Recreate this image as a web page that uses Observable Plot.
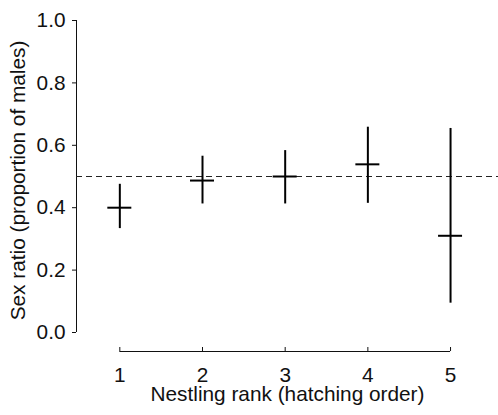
<!DOCTYPE html>
<html>
<head>
<meta charset="utf-8">
<script src="https://cdn.jsdelivr.net/npm/d3@7"></script>
<script src="https://cdn.jsdelivr.net/npm/@observablehq/plot@0.6"></script>
<style>
  html, body { margin: 0; padding: 0; background: #fff; }
</style>
</head>
<body>
<div id="chart"></div>
<script>
// Data
const ranks = [1, 2, 3, 4, 5];
const means = [0.40, 0.487, 0.50, 0.539, 0.31];
const lows  = [0.333, 0.412, 0.412, 0.414, 0.094];
const highs = [0.475, 0.565, 0.583, 0.658, 0.654];
const yTicks = [0, 0.2, 0.4, 0.6, 0.8, 1.0];
const refLine = [0.5];
const xTitle = "Nestling rank (hatching order)";
const yTitle = "Sex ratio (proportion of males)";

const data = ranks.map((r, i) => ({rank: r, mean: means[i], lo: lows[i], hi: highs[i]}));

const font = "'Liberation Sans', Arial, sans-serif";
const ink = "#111";
const fs = 20.8;

const chart = Plot.plot({
  width: 498,
  height: 415,
  marginLeft: 76,
  marginRight: 0,
  marginTop: 20,
  marginBottom: 83,
  style: {fontFamily: font, fontSize: fs + "px", color: ink, background: "#fff", overflow: "visible"},
  x: {domain: [0.476, 5.58], axis: null},
  y: {domain: [0, 1], axis: null},
  marks: [
    // y axis
    Plot.ruleX([0.476], {y1: 0, y2: 1, stroke: ink, strokeWidth: 1}),
    Plot.axisY(yTicks, {
      tickSize: 4, tickPadding: 7, tickFormat: d3.format(".1f"),
      fontSize: fs, stroke: ink, fill: ink, label: null
    }),
    Plot.text([yTitle], {frameAnchor: "left", textAnchor: "middle", lineAnchor: "middle", rotate: -90, dx: -58, dy: 4, fontSize: fs, fill: ink}),
    // x axis (offset below the frame)
    Plot.ruleY([0], {x1: ranks[0], x2: ranks[ranks.length - 1], dy: 19, stroke: ink, strokeWidth: 1}),
    Plot.ruleX(ranks, {x: d => d, y1: 0, y2: 0, insetTop: -4, dy: 19, stroke: ink, strokeWidth: 1}),
    Plot.text(ranks, {x: d => d, y: 0, dy: 43, text: d => String(d), fontSize: fs, fill: ink}),
    Plot.text([xTitle], {frameAnchor: "bottom", lineAnchor: "middle", dy: 62, fontSize: fs, fill: ink}),
    // reference line
    Plot.ruleY(refLine, {stroke: "#222", strokeWidth: 1, strokeDasharray: "6,4"}),
    // error bars
    Plot.ruleX(data, {x: "rank", y1: "lo", y2: "hi", stroke: "#000", strokeWidth: 2}),
    Plot.ruleY(data, {y: "mean", x1: "rank", x2: "rank", insetLeft: -12, insetRight: -12, stroke: "#000", strokeWidth: 2})
  ]
});

document.getElementById("chart").appendChild(chart);
</script>
</body>
</html>
